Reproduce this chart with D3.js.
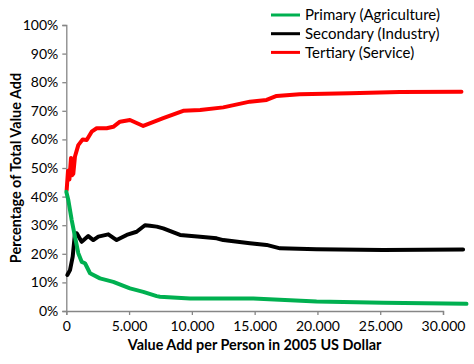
<!DOCTYPE html>
<html>
<head>
<meta charset="utf-8">
<script src="https://cdn.jsdelivr.net/npm/d3@7"></script>
<style>
  body{margin:0;background:#fff;}
  text{font-family:Lato,"Open Sans",sans-serif;}
</style>
</head>
<body>
<script>
// series: [dollars, percent]
var primary=[[0,41.7],[160,38.8],[430,31.8],[690,26],[955,20.2],[1225,17.2],[1490,16.7],[1890,13.2],[2680,11.4],[3740,10.2],[5070,7.9],[6130,6.7],[7200,5.2],[7460,5],[9850,4.4],[13270,4.4],[14890,4.4],[19930,3.3],[25230,2.9],[31870,2.5]]
var secondary=[[80,12.6],[295,14.3],[510,19],[690,27.2],[830,27.2],[1225,24.2],[1750,26.2],[2150,24.8],[2550,26],[3345,26.8],[4010,24.8],[4810,26.6],[5600,27.7],[6265,30],[6660,29.8],[7200,29.5],[7720,28.9],[9060,26.6],[10660,26],[11970,25.4],[12500,24.8],[14620,23.7],[15950,23.1],[17020,21.9],[19930,21.6],[25230,21.3],[31600,21.5]]
var tertiary=[[30,42.3],[135,49],[250,46],[375,53.5],[460,47.5],[557,48],[690,54],[955,58],[1305,60],[1625,59.8],[2020,62.7],[2420,63.9],[3215,63.9],[3740,64.4],[4275,66.2],[5070,66.8],[6130,64.7],[7720,67.4],[9310,70],[10660,70.3],[12500,71.2],[14620,73.2],[15950,73.8],[16750,75.2],[18580,75.8],[22580,76.1],[26560,76.6],[31470,76.7]]
var seriesNames=["Primary (Agriculture)","Secondary (Industry)","Tertiary (Service)"]
var seriesColors=["#00b050","#000000","#ff0000"]
var xTicks=[0,5000,10000,15000,20000,25000,30000]
var yTicks=[0,10,20,30,40,50,60,70,80,90,100]

var svg=d3.select("body").append("svg")
  .attr("width",474)
  .attr("height",364)

var xScale=d3.scaleLinear().domain([0,30000]).range([66.3,443])
var yScale=d3.scaleLinear().domain([0,100]).range([311,25])

var fmt=function(d){return d3.format(",")(d).replace(/,/g,".")}

var xAxis=svg.append("g")
  .attr("transform","translate(0,311)")
  .call(d3.axisBottom(xScale).tickValues(xTicks).tickSize(4).tickFormat(fmt))
var yAxis=svg.append("g")
  .attr("transform","translate(66.3,0)")
  .call(d3.axisLeft(yScale).tickValues(yTicks).tickSize(4).tickFormat(function(d){return d+"%"}))

svg.selectAll(".domain").attr("stroke","#868686").attr("stroke-width",1.3)
svg.selectAll(".tick line").attr("stroke","#868686").attr("stroke-width",1.3)
svg.selectAll(".tick text").attr("fill","#000").style("font-size","14px")
xAxis.selectAll(".tick text").attr("dy","0.95em")
yAxis.selectAll(".tick text").attr("x",-8)

var line=d3.line()
  .x(function(d){return xScale(d[0])})
  .y(function(d){return yScale(d[1])})

var allSeries=[primary,secondary,tertiary]
// red first, green last so it sits on top
var order=[2,1,0]
order.forEach(function(i){
  svg.append("path")
    .datum(allSeries[i])
    .attr("d",line)
    .attr("fill","none")
    .attr("stroke",seriesColors[i])
    .attr("stroke-width",4)
    .attr("stroke-linejoin","round")
    .attr("stroke-linecap","round")
})

// legend
seriesNames.forEach(function(n,i){
  var y=15+i*18.7
  svg.append("line")
    .attr("x1",271).attr("x2",300)
    .attr("y1",y).attr("y2",y)
    .attr("stroke",seriesColors[i])
    .attr("stroke-width",3)
  svg.append("text")
    .attr("x",305).attr("y",y)
    .attr("dy","0.35em")
    .style("font-size","15px")
    .attr("fill","#000")
    .text(n)
})

svg.append("text")
  .attr("x",254.6).attr("y",350)
  .attr("text-anchor","middle")
  .style("font-size","14.4px")
  .style("font-weight","bold")
  .text("Value Add per Person in 2005 US Dollar")

svg.append("text")
  .attr("transform","translate(21,168) rotate(-90)")
  .attr("text-anchor","middle")
  .style("font-size","14.4px")
  .style("font-weight","bold")
  .text("Percentage of Total Value Add")
</script>
</body>
</html>
